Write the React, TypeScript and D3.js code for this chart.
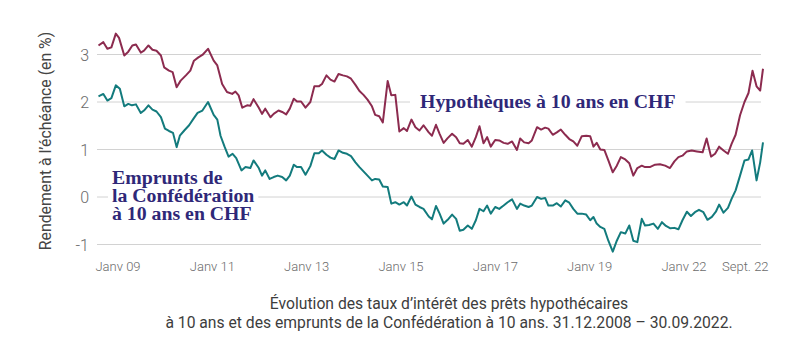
import React, { useEffect, useRef } from "react";
import * as d3 from "d3";

// y axis ticks
const yTicks = [3, 2, 1, 0, -1];
// x axis tick labels and their slot (even spacing as in the original, last one squeezed)
const xTickLabels = ["Janv 09", "Janv 11", "Janv 13", "Janv 15", "Janv 17", "Janv 19", "Janv 22", "Sept. 22"];
const xTickSlots = [0, 2, 4, 6, 8, 10, 12, 13.3];

// [months since 31.12.2008, yield %]
const mortgage: [number, number][] = [
  [0, 3.19], [1.2, 3.26], [2.2, 3.12], [3.2, 3.15], [4.3, 3.44], [5.1, 3.35], [6.4, 2.98], [7.4, 3.06],
  [8.4, 3.19], [9.3, 3.21], [10.5, 3.04], [11.3, 3.08], [12.4, 3.19], [13.4, 3.1], [14.4, 3.08], [15.5, 2.98],
  [16.3, 2.73], [17.5, 2.66], [18.4, 2.63], [19.4, 2.31], [20.4, 2.45], [21.7, 2.56], [22.8, 2.66], [23.7, 2.87],
  [24.8, 2.94], [25.8, 2.99], [27.2, 3.12], [28.6, 2.87], [29.5, 2.77], [30.7, 2.38], [31.9, 2.21], [33.2, 2.17],
  [34, 2.22], [34.8, 2.14], [35.7, 1.88], [36.9, 1.93], [37.7, 1.92], [38.5, 2.06], [39.8, 1.88], [40.6, 1.75],
  [41.4, 1.86], [42.7, 1.68], [43.5, 1.75], [44.7, 1.82], [45.6, 1.79], [46.6, 1.74], [47.5, 1.86], [48.5, 2.07],
  [49.3, 2.01], [50.3, 2.01], [51.4, 1.88], [52.6, 2.0], [53.6, 2.33], [54.7, 2.33], [55.5, 2.38], [56.6, 2.56],
  [57.6, 2.47], [58.6, 2.43], [59.6, 2.59], [60.7, 2.56], [61.7, 2.54], [62.7, 2.49], [63.8, 2.36], [64.8, 2.23],
  [65.8, 2.15], [66.8, 2.05], [67.9, 1.91], [68.7, 1.73], [69.7, 1.7], [70.6, 1.57], [71.8, 2.44], [72.7, 2.14],
  [73.7, 2.15], [74.7, 1.38], [75.8, 1.45], [76.6, 1.39], [77.7, 1.63], [78.7, 1.47], [79.7, 1.4], [80.7, 1.51],
  [82, 1.36], [82.8, 1.29], [83.8, 1.52], [84.7, 1.33], [85.7, 1.14], [86.7, 1.24], [87.8, 1.33], [88.8, 1.26],
  [89.7, 1.13], [90.6, 1.12], [91.7, 1.2], [92.7, 1.06], [93.7, 1.26], [94.6, 1.49], [95.6, 1.13], [96.5, 1.26],
  [97.4, 1.06], [98.5, 1.2], [99.5, 1.19], [100.6, 1.14], [101.6, 1.12], [102.7, 1.17], [103.9, 0.99], [104.7, 1.23],
  [105.7, 1.15], [106.8, 1.13], [107.6, 1.19], [108.9, 1.47], [109.9, 1.42], [110.9, 1.46], [111.7, 1.44], [112.8, 1.31],
  [113.8, 1.36], [114.8, 1.42], [115.9, 1.31], [116.9, 1.22], [117.9, 1.17], [118.9, 1.08], [120, 1.28], [121.1, 1.29],
  [122.1, 1.28], [122.9, 1.06], [123.7, 1.14], [124.6, 1.0], [125.6, 0.99], [126.6, 0.77], [127.7, 0.52], [128.7, 0.66],
  [129.7, 0.84], [130.8, 0.79], [131.8, 0.71], [132.8, 0.45], [133.8, 0.61], [134.9, 0.66], [135.7, 0.63], [136.9, 0.63],
  [138.2, 0.68], [139.4, 0.69], [140.7, 0.66], [141.9, 0.61], [143, 0.75], [144, 0.84], [145, 0.87], [146.1, 0.96],
  [147.3, 0.98], [148.6, 0.96], [150, 0.94], [151, 1.23], [152.1, 0.85], [153.1, 0.91], [154.1, 1.06], [155.2, 0.98],
  [156.3, 0.91], [157.2, 1.12], [158.2, 1.31], [159.3, 1.72], [160.4, 2.0], [161.4, 2.19], [162.4, 2.66], [163.4, 2.33],
  [164.3, 2.24], [165, 2.7],
];

const confed: [number, number][] = [
  [0, 2.12], [1.2, 2.17], [2.2, 2.03], [3.2, 2.08], [4.3, 2.35], [5.3, 2.28], [6.4, 1.91], [7.4, 1.96],
  [8.3, 1.93], [9.3, 1.95], [10.5, 1.77], [11.3, 1.82], [12.4, 1.93], [13.4, 1.84], [14.4, 1.8], [15.5, 1.68],
  [16.5, 1.44], [17.5, 1.39], [18.5, 1.35], [19.4, 1.05], [20.2, 1.29], [21.3, 1.4], [22.5, 1.51], [23.6, 1.65],
  [24.6, 1.77], [25.8, 1.82], [27.2, 2.0], [28.6, 1.73], [29.5, 1.63], [30.3, 1.29], [31.3, 1.06], [32.3, 0.85],
  [33.3, 0.91], [34.2, 0.82], [35.5, 0.56], [36.5, 0.63], [37.7, 0.61], [38.5, 0.77], [39.8, 0.61], [40.6, 0.45],
  [41.4, 0.56], [42.5, 0.38], [43.5, 0.42], [44.5, 0.45], [45.6, 0.42], [46.6, 0.35], [47.5, 0.45], [48.5, 0.68],
  [49.3, 0.63], [50.3, 0.63], [51.4, 0.47], [52.6, 0.65], [53.6, 0.92], [54.7, 0.92], [55.5, 0.98], [56.6, 0.89],
  [57.6, 0.83], [58.6, 0.8], [59.6, 0.98], [60.7, 0.93], [61.7, 0.91], [62.7, 0.86], [63.8, 0.73], [64.8, 0.63],
  [65.8, 0.54], [66.8, 0.45], [67.9, 0.35], [68.7, 0.38], [69.7, 0.37], [70.6, 0.22], [71.8, 0.21], [72.7, -0.14],
  [73.7, -0.11], [74.7, -0.16], [75.8, -0.11], [76.6, -0.18], [77.7, 0.01], [78.7, -0.16], [79.7, -0.21], [80.7, -0.25],
  [82, -0.41], [82.8, -0.47], [83.8, -0.19], [84.7, -0.35], [85.7, -0.56], [86.7, -0.48], [87.8, -0.37], [88.8, -0.46],
  [89.7, -0.71], [90.6, -0.69], [91.7, -0.6], [92.7, -0.67], [93.7, -0.49], [94.6, -0.25], [95.6, -0.3], [96.5, -0.18],
  [97.4, -0.35], [98.5, -0.21], [99.5, -0.25], [100.6, -0.18], [101.6, -0.11], [102.7, -0.05], [103.9, -0.25], [104.7, -0.14],
  [105.7, -0.18], [106.8, -0.21], [107.6, -0.18], [108.9, 0.0], [109.9, -0.04], [110.9, -0.02], [111.7, -0.18], [112.8, -0.18],
  [113.8, -0.13], [114.8, -0.2], [115.9, -0.07], [116.9, -0.12], [117.9, -0.25], [118.9, -0.35], [120, -0.35], [121.1, -0.37],
  [122.1, -0.49], [122.9, -0.42], [123.7, -0.56], [124.6, -0.63], [125.6, -0.67], [126.6, -0.92], [127.7, -1.15], [128.7, -0.92],
  [129.7, -0.74], [130.8, -0.77], [131.8, -0.6], [132.8, -0.92], [133.8, -0.95], [134.9, -0.46], [135.7, -0.6], [136.7, -0.59],
  [137.8, -0.56], [138.9, -0.67], [139.9, -0.53], [140.9, -0.61], [142, -0.66], [143, -0.65], [144, -0.68], [145, -0.49],
  [146.1, -0.31], [147.1, -0.4], [148.1, -0.32], [149.1, -0.27], [150.2, -0.32], [151.2, -0.48], [152.3, -0.42], [153.3, -0.31],
  [154.1, -0.16], [155.2, -0.33], [156.3, -0.23], [157.2, -0.04], [158.2, 0.14], [159.3, 0.45], [160.4, 0.77], [161.4, 0.79],
  [162.3, 0.98], [163.4, 0.35], [164.3, 0.73], [165, 1.15],
];

const mortgageLabel = "Hypothèques à 10 ans en CHF";
const confedLabel = ["Emprunts de", "la Confédération", "à 10 ans en CHF"];
const yTitle = "Rendement à l’échéance (en %)";
const caption = [
  "Évolution des taux d’intérêt des prêts hypothécaires",
  "à 10 ans et des emprunts de la Confédération à 10 ans. 31.12.2008 – 30.09.2022.",
];

const W = 800;
const H = 361;
const RED = "#8c2b4f";
const TEAL = "#137b7d";
const INDIGO = "#2f2878";
const SANS = "Roboto, 'Noto Sans', sans-serif";
const SERIF = "'Liberation Serif', 'DejaVu Serif', serif";
const LABEL_SIZE = 19.8;

export default function App() {
  const ref = useRef<SVGSVGElement | null>(null);

  useEffect(() => {
    const svg = d3.select(ref.current);
    svg.selectAll("*").remove();

    const x = d3.scaleLinear().domain([0, 165]).range([98.5, 763]);
    const y = d3.scaleLinear().domain([-1, 3]).range([244.5, 54.5]);
    const slot = d3.scaleLinear().domain([0, 12]).range([118, 684]);

    // grid
    svg.append("g")
      .selectAll("line")
      .data(yTicks)
      .join("line")
      .attr("x1", 97)
      .attr("x2", 761)
      .attr("y1", (d) => y(d))
      .attr("y2", (d) => y(d))
      .attr("stroke", "#d2d2d2")
      .attr("stroke-width", 1);

    // y tick labels
    svg.append("g")
      .selectAll("text")
      .data(yTicks)
      .join("text")
      .attr("x", 89)
      .attr("y", (d) => y(d) + 6)
      .attr("text-anchor", "end")
      .attr("font-family", SANS)
      .attr("font-weight", 300)
      .attr("font-size", 16)
      .attr("fill", "#6b6b6b")
      .text((d) => String(d));

    // y title
    svg.append("text")
      .attr("transform", `translate(51,${141}) rotate(-90)`)
      .attr("text-anchor", "middle")
      .attr("font-family", SANS)
      .attr("font-size", 15.8)
      .attr("fill", "#444")
      .text(yTitle);

    // x tick labels
    svg.append("g")
      .selectAll("text")
      .data(xTickLabels)
      .join("text")
      .attr("x", (_d, i) => slot(xTickSlots[i]))
      .attr("y", 271)
      .attr("text-anchor", "middle")
      .attr("font-family", SANS)
      .attr("font-weight", 300)
      .attr("font-size", 13)
      .attr("fill", "#6b6b6b")
      .text((d) => d);

    const line = d3.line<[number, number]>()
      .x((d) => x(d[0]))
      .y((d) => y(d[1]))
      .curve(d3.curveLinear);

    svg.append("path")
      .datum(mortgage)
      .attr("d", line)
      .attr("fill", "none")
      .attr("stroke", RED)
      .attr("stroke-width", 2)
      .attr("stroke-linejoin", "round");

    svg.append("path")
      .datum(confed)
      .attr("d", line)
      .attr("fill", "none")
      .attr("stroke", TEAL)
      .attr("stroke-width", 2)
      .attr("stroke-linejoin", "round");

    // series labels (one text element each, multi-line via tspans) with white background breaking grid lines
    const addLabel = (lines: string[], lx: number, ly: number, lh: number, pad: number) => {
      const g = svg.append("g");
      const bg = g.append("g");
      const t = g.append("text")
        .attr("font-family", SERIF)
        .attr("font-weight", 700)
        .attr("font-size", LABEL_SIZE)
        .attr("fill", INDIGO);
      lines.forEach((l, i) => {
        const ts = t.append("tspan").attr("x", lx).attr("y", ly + i * lh).text(l);
        const w = (ts.node() as SVGTSpanElement).getComputedTextLength();
        bg.append("rect")
          .attr("fill", "#fff")
          .attr("x", lx - pad)
          .attr("y", ly + i * lh - LABEL_SIZE * 0.72)
          .attr("width", w + pad * 2)
          .attr("height", LABEL_SIZE * 0.9);
      });
    };
    addLabel([mortgageLabel], 420, 107.5, 0, 10);
    addLabel(confedLabel, 112, 183.5, 18, 4);

    // caption
    const cap = svg.append("text")
      .attr("text-anchor", "middle")
      .attr("font-family", SANS)
      .attr("font-size", 15.7)
      .attr("fill", "#3d3d3d");
    caption.forEach((c, i) => {
      cap.append("tspan").attr("x", 449).attr("y", 309 + i * 18.5).text(c);
    });
  }, []);

  return (
    <svg
      ref={ref}
      width={W}
      height={H}
      viewBox={`0 0 ${W} ${H}`}
      style={{ position: "absolute", left: 0, top: 0, background: "#fff" }}
    />
  );
}
